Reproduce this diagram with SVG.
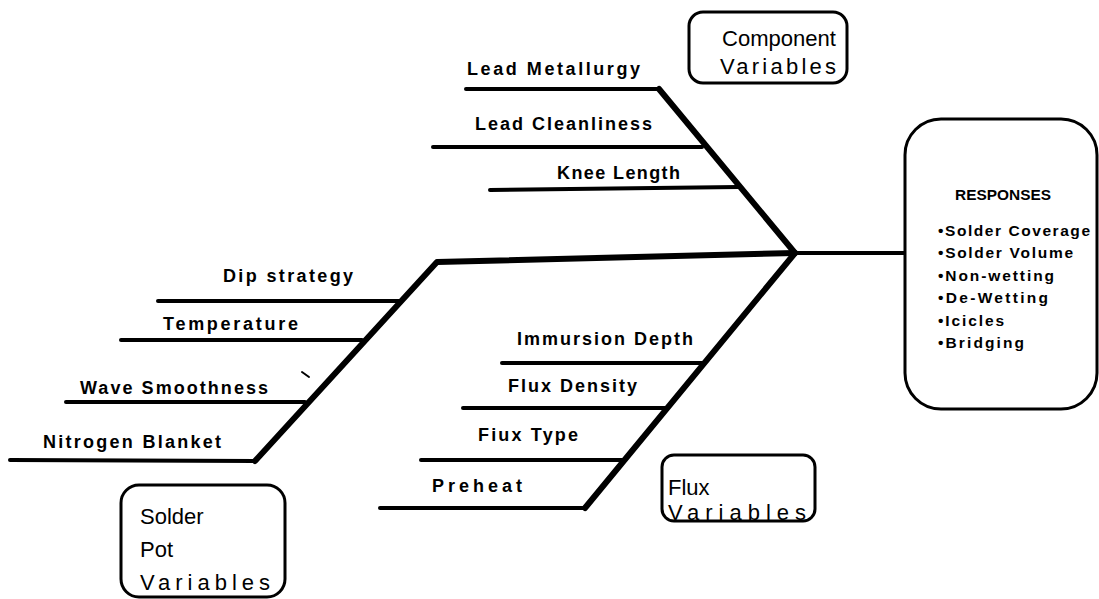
<svg xmlns="http://www.w3.org/2000/svg" width="1099" height="599" viewBox="0 0 1099 599">
  <style>
    .bone { stroke: #000; stroke-linecap: round; stroke-linejoin: round; fill: none; }
    .rib { stroke-width: 4; }
    .spine { stroke-width: 6; }
    .box { fill: #fff; stroke: #000; stroke-width: 3; }
    .lbl { font-family: "Liberation Sans", Arial, sans-serif; font-weight: bold; font-size: 18px; fill: #000; }
    .ttl { font-family: "Liberation Sans", Arial, sans-serif; font-size: 22px; fill: #000; }
    .rsp { font-family: "Liberation Sans", Arial, sans-serif; font-weight: bold; font-size: 15.5px; fill: #000; }
  </style>
  <rect width="1099" height="599" fill="#fff"/>

  <!-- skeleton lines -->
  <g id="connectors">
    <!-- main spine to responses -->
    <polyline class="bone spine" points="255,461 437,262 795,253"/>
    <line class="bone rib" x1="795" y1="253" x2="905" y2="253"/>
    <!-- component branch -->
    <polyline class="bone spine" points="659,89 795,253 585,508"/>
    <line class="bone rib" x1="466" y1="89" x2="659" y2="89"/>
    <line class="bone rib" x1="433" y1="147" x2="702" y2="147"/>
    <line class="bone rib" x1="490" y1="190" x2="738" y2="187"/>
    <!-- solder pot branch -->
    <line class="bone rib" x1="158" y1="301" x2="399" y2="301"/>
    <line class="bone rib" x1="121" y1="340" x2="362" y2="340"/>
    <line class="bone rib" x1="66" y1="402" x2="305" y2="402"/>
    <line class="bone rib" x1="10" y1="460" x2="255" y2="461"/>
    <!-- flux branch -->
    <line class="bone rib" x1="502" y1="363" x2="704" y2="363"/>
    <line class="bone rib" x1="463" y1="408" x2="666" y2="408"/>
    <line class="bone rib" x1="421" y1="460" x2="624" y2="460"/>
    <line class="bone rib" x1="380" y1="508" x2="585" y2="508"/>
    <!-- stray tick -->
    <line class="bone" stroke-width="2" x1="302" y1="372" x2="309" y2="377"/>
  </g>

  <!-- cause labels -->
  <g id="component-causes">
    <text class="lbl" x="467" y="75" textLength="173" lengthAdjust="spacing">Lead Metallurgy</text>
    <text class="lbl" x="475" y="130" textLength="177" lengthAdjust="spacing">Lead Cleanliness</text>
    <text class="lbl" x="557" y="179" textLength="123" lengthAdjust="spacing">Knee Length</text>
  </g>
  <g id="solder-pot-causes">
    <text class="lbl" x="223" y="282" textLength="130" lengthAdjust="spacing">Dip strategy</text>
    <text class="lbl" x="163" y="330" textLength="135" lengthAdjust="spacing">Temperature</text>
    <text class="lbl" x="80" y="394" textLength="188" lengthAdjust="spacing">Wave Smoothness</text>
    <text class="lbl" x="43" y="448" textLength="178" lengthAdjust="spacing">Nitrogen Blanket</text>
  </g>
  <g id="flux-causes">
    <text class="lbl" x="517" y="345" textLength="176" lengthAdjust="spacing">Immursion Depth</text>
    <text class="lbl" x="508" y="392" textLength="129" lengthAdjust="spacing">Flux Density</text>
    <text class="lbl" x="478" y="441" textLength="100" lengthAdjust="spacing">Fiux Type</text>
    <text class="lbl" x="432" y="492" textLength="90" lengthAdjust="spacing">Preheat</text>
  </g>

  <!-- category boxes -->
  <g id="component-variables">
    <rect class="box" x="689" y="12" width="158" height="71" rx="14"/>
    <text class="ttl" x="722" y="46" textLength="114" lengthAdjust="spacingAndGlyphs">Component</text>
    <text class="ttl" x="720" y="74" textLength="116" lengthAdjust="spacing">Variables</text>
  </g>
  <g id="solder-pot-variables">
    <rect class="box" x="121" y="485" width="164" height="112" rx="18"/>
    <text class="ttl" x="140" y="524">Solder</text>
    <text class="ttl" x="140" y="557">Pot</text>
    <text class="ttl" x="140" y="590" textLength="130" lengthAdjust="spacing">Variables</text>
  </g>
  <g id="flux-variables">
    <rect class="box" x="662" y="455" width="153" height="66" rx="12"/>
    <text class="ttl" x="668" y="495">Flux</text>
    <text class="ttl" x="668" y="520" textLength="138" lengthAdjust="spacing">Variables</text>
  </g>

  <!-- effect box -->
  <g id="responses">
    <rect class="box" x="905" y="119" width="192" height="290" rx="36"/>
    <text class="rsp" x="955" y="200" font-size="13" textLength="96" lengthAdjust="spacingAndGlyphs">RESPONSES</text>
    <text class="rsp" x="938" y="236" textLength="152" lengthAdjust="spacing">•Solder Coverage</text>
    <text class="rsp" x="938" y="258" textLength="135" lengthAdjust="spacing">•Solder Volume</text>
    <text class="rsp" x="938" y="281" textLength="116" lengthAdjust="spacing">•Non-wetting</text>
    <text class="rsp" x="938" y="303" textLength="110" lengthAdjust="spacing">•De-Wetting</text>
    <text class="rsp" x="938" y="326" textLength="66" lengthAdjust="spacing">•Icicles</text>
    <text class="rsp" x="938" y="348" textLength="86" lengthAdjust="spacing">•Bridging</text>
  </g>
</svg>
